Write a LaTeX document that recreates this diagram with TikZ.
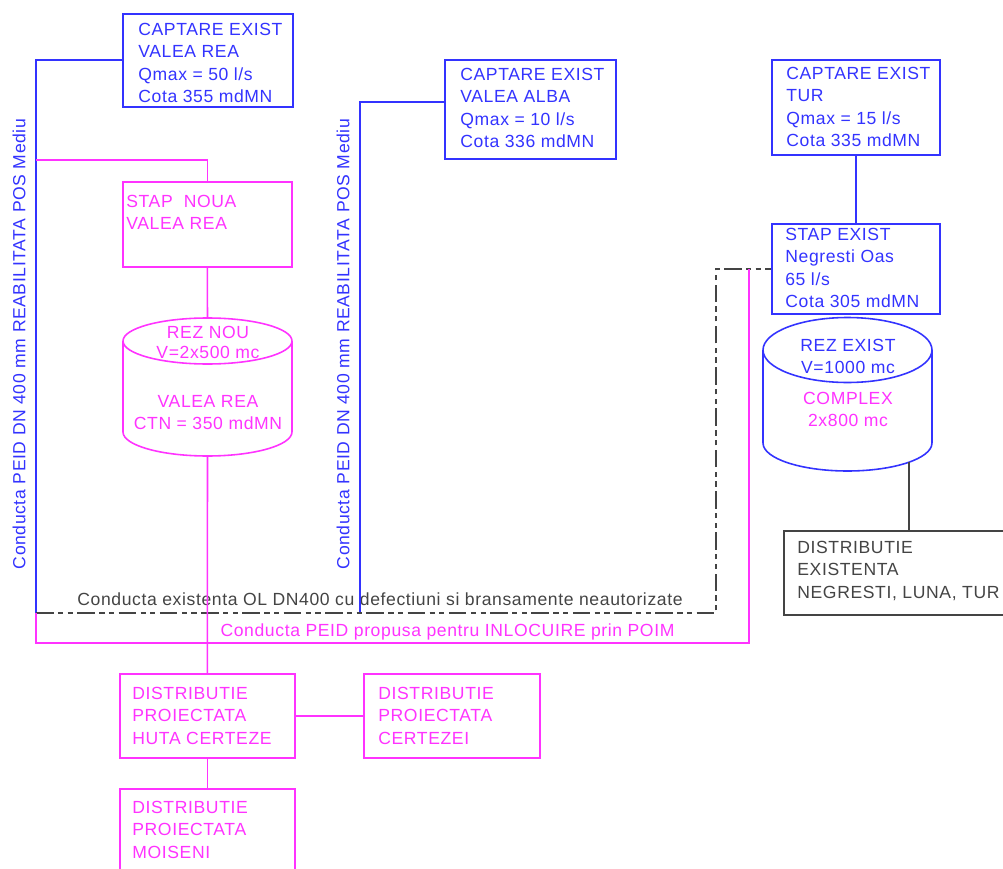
\documentclass[tikz,border=0pt]{standalone}
\usepackage{fontspec}
\setmainfont[LetterSpace=3.5]{Liberation Sans}

\definecolor{peidBlue}{RGB}{51,51,255}
\definecolor{peidPink}{RGB}{255,51,255}
\definecolor{oldGray}{RGB}{68,68,68}

\begin{document}
\begin{tikzpicture}
[x=0.02cm, y=-0.02cm,%
  boxDecorate/.style={shape=rectangle,draw,line width=0.9pt,inner sep=0pt,anchor=north west},%
  textDecorate/.style={inner sep=0pt,align=left,anchor=north west,font=\fontsize{10}{12.7}\selectfont},%
  labelDecorate/.style={inner sep=0pt,align=center,font=\fontsize{10}{12.7}\selectfont},%
  blueLine/.style={draw=peidBlue,line width=0.9pt},%
  pinkLine/.style={draw=peidPink,line width=0.9pt},%
  grayLine/.style={draw=oldGray,line width=0.9pt},%
  oldLine/.style={draw=oldGray,line width=0.9pt,dash pattern=on 10pt off 2.5pt on 3pt off 2.5pt on 3pt off 2.5pt}]
\fill[white] (0,0) rectangle (1003,868);
\useasboundingbox (0,0) rectangle (1003,868);

%% boxes
\foreach \nodename/\x/\y/\w/\h/\col in {cvr/122/13/170/93/peidBlue, cva/444/59/171/99/peidBlue,
  ctur/771/59/168/95/peidBlue, sten/771/223/168/90/peidBlue, snva/122/181/169/85/peidPink,
  dhc/119/673/175/84/peidPink, dce/363/673/176/84/peidPink, dmo/119/788/175/100/peidPink,
  dex/783/530/240/84/oldGray}
{
  \node (\nodename) at (\x,\y) [boxDecorate,draw=\col,minimum width=\w*0.02cm,minimum height=\h*0.02cm] {};
}

%% box texts
\node (cvrText) at ([shift={(16,10)}]cvr.north west) [textDecorate,text=peidBlue]
  {CAPTARE EXIST\\VALEA REA\\Qmax = 50 l/s\\Cota 355 mdMN};
\node (cvaText) at ([shift={(16,9)}]cva.north west) [textDecorate,text=peidBlue]
  {CAPTARE EXIST\\VALEA ALBA\\Qmax = 10 l/s\\Cota 336 mdMN};
\node (cturText) at ([shift={(15,8)}]ctur.north west) [textDecorate,text=peidBlue]
  {CAPTARE EXIST\\TUR\\Qmax = 15 l/s\\Cota 335 mdMN};
\node (stenText) at ([shift={(14,5)}]sten.north west) [textDecorate,text=peidBlue]
  {STAP EXIST\\Negresti Oas\\65 l/s\\Cota 305 mdMN};
\node (snvaText) at ([shift={(4,14)}]snva.north west) [textDecorate,text=peidPink]
  {STAP~ NOUA\\VALEA REA};
\node (dhcText) at ([shift={(13,14)}]dhc.north west) [textDecorate,text=peidPink]
  {DISTRIBUTIE\\PROIECTATA\\HUTA CERTEZE};
\node (dceText) at ([shift={(15,14)}]dce.north west) [textDecorate,text=peidPink]
  {DISTRIBUTIE\\PROIECTATA\\CERTEZEI};
\node (dmoText) at ([shift={(13,13)}]dmo.north west) [textDecorate,text=peidPink]
  {DISTRIBUTIE\\PROIECTATA\\MOISENI};
\node (dexText) at ([shift={(14,11)}]dex.north west) [textDecorate,text=oldGray]
  {DISTRIBUTIE\\EXISTENTA\\NEGRESTI, LUNA, TUR};

%% reservoirs
\draw[pinkLine] (207.5,341) ellipse [x radius=1.69cm, y radius=0.46cm];
\draw[pinkLine] (123,341) -- (123,432) arc [start angle=180, end angle=360, x radius=1.69cm, y radius=0.48cm] -- (292,341);
\coordinate (rnTop) at (207.5,318);
\coordinate (rnBot) at (207.5,456);
\node (rnText) at (208,326) [labelDecorate,anchor=north,text=peidPink,font=\fontsize{10}{11.3}\selectfont] {REZ NOU\\V=2x500 mc};
\node (rnText2) at (208,395) [labelDecorate,anchor=north,text=peidPink] {VALEA REA\\CTN = 350 mdMN};

\draw[blueLine] (847.5,350) ellipse [x radius=1.69cm, y radius=0.65cm];
\draw[blueLine] (763,350) -- (763,443) arc [start angle=180, end angle=360, x radius=1.69cm, y radius=0.56cm] -- (932,350);
\coordinate (reTap) at (909,462);
\node (reText) at (848,339) [labelDecorate,anchor=north,text=peidBlue] {REZ EXIST\\V=1000 mc};
\node (reText2) at (848,392) [labelDecorate,anchor=north,text=peidPink] {COMPLEX\\2x800 mc};

%% pipe labels
\node (pipeA) at (19,344) [labelDecorate,rotate=90,text=peidBlue] {Conducta PEID DN 400 mm REABILITATA POS Mediu};
\node (pipeB) at (343,344) [labelDecorate,rotate=90,text=peidBlue] {Conducta PEID DN 400 mm REABILITATA POS Mediu};
\node (pipeOld) at (380,605) [labelDecorate,anchor=base,text=oldGray] {Conducta existenta OL DN400 cu defectiuni si bransamente neautorizate};
\node (pipeNew) at (447.5,636) [labelDecorate,anchor=base,text=peidPink] {Conducta PEID propusa pentru INLOCUIRE prin POIM};

%% junctions
\coordinate (j1) at (36,613);
\coordinate (j2) at (360,613);
\coordinate (j3) at (716,613);
\coordinate (t1) at (36,160);
\coordinate (p1) at (36,643);
\coordinate (p2) at (749,269);

%% connectors
\draw[blueLine] (cvr.west) -| (j1);
\draw[blueLine] ([yshift=0.14cm]cva.west) -| (j2);
\draw[blueLine] (ctur.south) -- (sten.north);
\draw[oldLine] (j1) -- (j3) |- (sten.west);
\draw[pinkLine] (j1) -- (p1) -| (p2);
\draw[pinkLine] (t1) -| (snva.north);
\draw[pinkLine] (snva.south) -- (rnTop);
\draw[pinkLine] (rnBot) -- (dhc.north);
\draw[pinkLine] (dhc.east) -- (dce.west);
\draw[pinkLine] (dhc.south) -- (dmo.north);
\draw[grayLine] (reTap) -- (reTap |- dex.north);
\end{tikzpicture}
\end{document}
